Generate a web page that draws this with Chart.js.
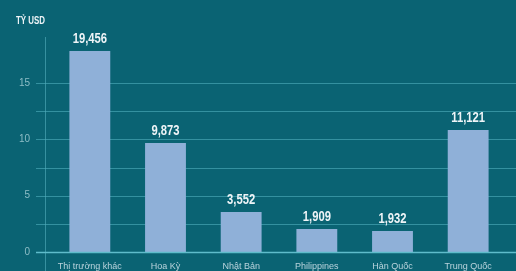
<!DOCTYPE html>
<html>
<head>
<meta charset="utf-8">
<script src="https://cdn.jsdelivr.net/npm/chart.js@4/dist/chart.umd.min.js"></script>
<style>
body{margin:0;background:#0a6373;}
canvas{display:block;}
</style>
</head>
<body>
<canvas id="chart" width="516" height="271"></canvas>
<script>
// du lieu
const categories = ["Thị trường khác", "Hoa Kỳ", "Nhật Bản", "Philippines", "Hàn Quốc", "Trung Quốc"];
const barValues = [17.85, 9.68, 3.55, 2.04, 1.86, 10.83];
const valueLabels = ["19,456", "9,873", "3,552", "1,909", "1,932", "11,121"];
const yTicks = [0, 5, 10, 15];
const gridValues = [2.5, 5, 7.5, 10, 12.5, 15];
const unitLabel = "TỶ USD";

const FONT = '"Liberation Sans", Arial, sans-serif';

// chu hep (font condensed khong co san)
function narrowText(ctx, text, x, y, sx){
ctx.save();
ctx.translate(x, y);
ctx.scale(sx, 1);
ctx.fillText(text, 0, 0);
ctx.restore();
}

// ve luoi + truc + nhan
const decor = {
id: "decor",
beforeDatasetsDraw(chart){
const ctx = chart.ctx;
const y = chart.scales.y;
ctx.save();
ctx.lineWidth = 1;
gridValues.forEach(v => {
let py = Math.round(y.getPixelForValue(v)) + 0.5;
ctx.strokeStyle = "rgba(70,165,180,0.7)";
ctx.beginPath();
ctx.moveTo(36, py);
ctx.lineTo(chart.width, py);
ctx.stroke();
});
// truc doc
ctx.strokeStyle = "rgba(80,170,185,0.65)";
ctx.beginPath();
ctx.moveTo(45.5, 37);
ctx.lineTo(45.5, chart.height);
ctx.stroke();
ctx.restore();
},
afterDatasetsDraw(chart){
const ctx = chart.ctx;
const y = chart.scales.y;
const meta = chart.getDatasetMeta(0);
ctx.save();
// duong 0
let py0 = Math.round(y.getPixelForValue(0)) + 0.5;
ctx.strokeStyle = "#5fbccb";
ctx.lineWidth = 1.5;
ctx.beginPath();
ctx.moveTo(36, py0);
ctx.lineTo(chart.width, py0);
ctx.stroke();

// so lieu tren cot
ctx.fillStyle = "#eef4f7";
ctx.font = "bold 15px " + FONT;
ctx.textAlign = "center";
ctx.textBaseline = "alphabetic";
meta.data.forEach((bar, i) => {
narrowText(ctx, valueLabels[i], bar.x, bar.y - 8, 0.75);
});

// don vi
ctx.font = "bold 11px " + FONT;
ctx.textAlign = "left";
narrowText(ctx, unitLabel, 16, 24, 0.72);
ctx.restore();
}
};

new Chart(document.getElementById("chart"), {
type: "bar",
data: {
labels: categories,
datasets: [{
data: barValues,
backgroundColor: "#8fb0d8",
borderWidth: 0,
barPercentage: 0.54,
categoryPercentage: 1
}]
},
options: {
responsive: false,
animation: false,
layout: { padding: { top: 38, right: 10, left: 0, bottom: 0 } },
plugins: { legend: { display: false }, tooltip: { enabled: false } },
scales: {
x: {
grid: { display: false, drawTicks: false },
border: { display: false },
ticks: {
color: "#b9d3dc",
font: { family: FONT, size: 9 },
padding: 9,
maxRotation: 0,
autoSkip: false
},
afterFit(scale){ scale.height = 19; }
},
y: {
min: 0,
max: 19,
grid: { display: false, drawTicks: false },
border: { display: false },
ticks: {
stepSize: 2.5,
color: "#8dbdc6",
font: { family: FONT, size: 10 },
padding: 22,
callback: v => yTicks.includes(v) ? String(v) : ""
},
afterFit(scale){
scale.width = 52;
// bo padding doc cua nhan truc y
scale.paddingTop = 0;
scale.paddingBottom = 0;
}
}
}
},
plugins: [decor]
});
</script>
</body>
</html>
